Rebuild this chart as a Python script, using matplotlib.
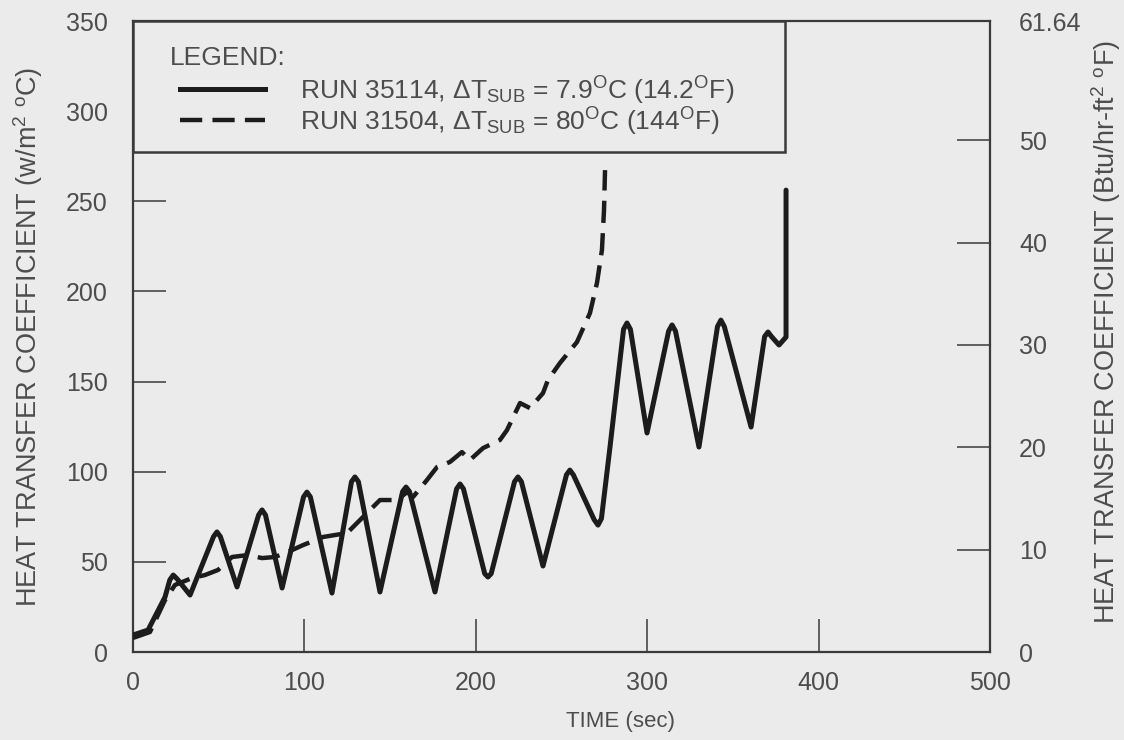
import matplotlib
matplotlib.use("Agg")
import matplotlib.pyplot as plt
from matplotlib.patches import Rectangle

plt.rcParams["font.family"] = ["Liberation Sans", "DejaVu Sans"]
plt.rcParams["mathtext.fontset"] = "custom"
plt.rcParams["mathtext.rm"] = "Liberation Sans"
plt.rcParams["mathtext.it"] = "Liberation Sans:italic"
plt.rcParams["mathtext.bf"] = "Liberation Sans:bold"

# RUN 35114 (low subcooling), time in s, h in W/m2 C
run_35114_time = [0, 8.8, 18.7, 21.5, 23.5, 25.8, 33.3, 47.0, 49.0, 51.0, 60.7,
                  73.3, 75.3, 77.3, 87.0, 99.5, 101.5, 103.5, 116.1, 127.5, 129.5,
                  131.5, 144.1, 157.3, 159.3, 161.3, 176.2, 188.8, 190.8, 192.8,
                  205.2, 207.1, 209.0, 222.6, 224.6, 226.6, 239.2, 252.9, 254.9,
                  256.9, 269.0, 271.3, 273.3, 278.3, 286.2, 288.2, 290.2, 299.9,
                  312.5, 314.5, 316.5, 330.2, 341.0, 343.0, 345.0, 360.6, 368.5,
                  370.5, 372.5, 376.9, 381.0, 381.0]
run_35114_htc = [9.4, 12.2, 30.5, 40.0, 42.7, 40.5, 31.6, 64.0, 66.6, 64.0, 36.1,
                 76.0, 78.8, 76.0, 35.5, 86.0, 88.7, 86.0, 32.7, 94.5, 97.1,
                 94.5, 33.3, 89.0, 91.5, 89.0, 33.3, 90.5, 93.2, 90.5,
                 43.5, 41.6, 43.5, 94.5, 97.1, 94.5, 47.7, 98.3, 100.9,
                 98.3, 73.5, 70.4, 74.0, 113.7, 179.0, 182.5, 179.0, 121.5,
                 178.0, 181.4, 178.0, 113.7, 180.5, 184.1, 180.5, 124.8, 175.0,
                 177.5, 175.0, 170.3, 174.7, 256.2]

# RUN 31504 (high subcooling)
run_31504_time = [0, 9.9, 18.7, 24.5, 34.4, 42.0, 49.6, 57.8, 67.1, 75.3, 82.8,
                  90.4, 99.2, 110.9, 124.9, 133.6, 144.1, 154.0, 159.9, 163.4,
                  171.5, 177.4, 184.9, 191.9, 196.6, 204.2, 214.1, 218.2, 225.8,
                  231.6, 239.2, 242.1, 249.1, 259.0, 266.6, 270.7, 273.6, 274.8,
                  275.4]
run_31504_htc = [7.8, 11.1, 28.8, 37.2, 41.0, 42.7, 45.5, 52.7, 53.8, 52.1, 52.7,
                 55.5, 59.3, 63.8, 66.0, 74.3, 84.3, 84.3, 88.7, 86.0,
                 95.4, 102.6, 105.4, 110.9, 106.5, 113.1, 117.6, 123.1, 138.1,
                 135.3, 143.6, 150.9, 160.3, 171.9, 188.0, 204.7, 223.0, 245.1,
                 267.3]

time_ticks = [0, 100, 200, 300, 400, 500]
si_ticks = [0, 50, 100, 150, 200, 250, 300, 350]
us_ticks = [0, 10, 20, 30, 40, 50, 61.64]
us_labels = ["0", "10", "20", "30", "40", "50", "61.64"]

legend_labels = [
    r"RUN 35114, ΔT$_{\rm SUB}$ = 7.9$^{\rm O}$C (14.2$^{\rm O}$F)",
    r"RUN 31504, ΔT$_{\rm SUB}$ = 80$^{\rm O}$C (144$^{\rm O}$F)",
]

bg = "#ebebeb"
ink = "#1c1c1c"
text_c = "#4d4d4d"
frame_c = "#3a3a3a"

fig = plt.figure(figsize=(11.24, 7.40), dpi=100, facecolor=bg)
ax = fig.add_axes([0.1183, 0.1189, 0.7625, 0.8527], facecolor=bg)

ax.plot(run_35114_time, run_35114_htc, color=ink, lw=3.6,
        solid_joinstyle="round", solid_capstyle="round", zorder=3)
dashed, = ax.plot(run_31504_time, run_31504_htc, color=ink, lw=3.2,
                  dash_joinstyle="round", zorder=3)
dashed.set_dashes((5, 2.3))

ax.set_xlim(0, 500)
ax.set_ylim(0, 350)
ax.set_xticks(time_ticks)
ax.set_yticks(si_ticks)
ax.tick_params(axis="both", direction="in", length=24, width=1.1,
               color=frame_c, labelcolor=text_c, labelsize=18)
ax.tick_params(axis="x", pad=14)
ax.tick_params(axis="y", pad=18)

for s in ax.spines.values():
    s.set_color(frame_c)
    s.set_linewidth(1.6)

ax2 = ax.twinx()
ax2.set_ylim(0, 350 / 5.678)
ax2.set_yticks(us_ticks)
ax2.set_yticklabels(us_labels)
ax2.tick_params(axis="y", direction="in", length=24, width=1.1,
                color=frame_c, labelcolor=text_c, labelsize=18, pad=21)
for s in ax2.spines.values():
    s.set_visible(False)

# legend frame sitting in the upper-left corner
ax.add_patch(Rectangle((0, 277.3), 380.4, 72.7, facecolor=bg, edgecolor=frame_c,
                       lw=1.8, zorder=5, clip_on=False))
ax.text(0.043, 0.9414, "LEGEND:", transform=ax.transAxes, fontsize=19,
        color=text_c, ha="left", va="center", zorder=6)
ax.plot([0.0548, 0.154], [0.892, 0.892], transform=ax.transAxes, color=ink,
        lw=3.6, zorder=6, clip_on=False)
leg_dash, = ax.plot([0.0548, 0.154], [0.843, 0.843], transform=ax.transAxes,
                    color=ink, lw=3.2, zorder=6, clip_on=False)
leg_dash.set_dashes((5, 2.3))
ax.text(0.195, 0.889, legend_labels[0], transform=ax.transAxes, fontsize=19,
        color=text_c, ha="left", va="center", zorder=6)
ax.text(0.195, 0.840, legend_labels[1], transform=ax.transAxes, fontsize=19,
        color=text_c, ha="left", va="center", zorder=6)

fig.text(620 / 1124, 1 - 721 / 740, "TIME (sec)", fontsize=16, color=text_c,
         ha="center", va="center")
fig.text(28 / 1124, 1 - 337 / 740,
         r"HEAT TRANSFER COEFFICIENT (w/m$^{2}$ $^{\rm o}$C)",
         rotation=90, fontsize=19.5, color=text_c, ha="center", va="center")
fig.text(1106 / 1124, 1 - 332 / 740,
         r"HEAT TRANSFER COEFFICIENT (Btu/hr-ft$^{2}$ $^{\rm o}$F)",
         rotation=90, fontsize=19.5, color=text_c, ha="center", va="center")

fig.savefig("out.png", dpi=100, facecolor=bg)
